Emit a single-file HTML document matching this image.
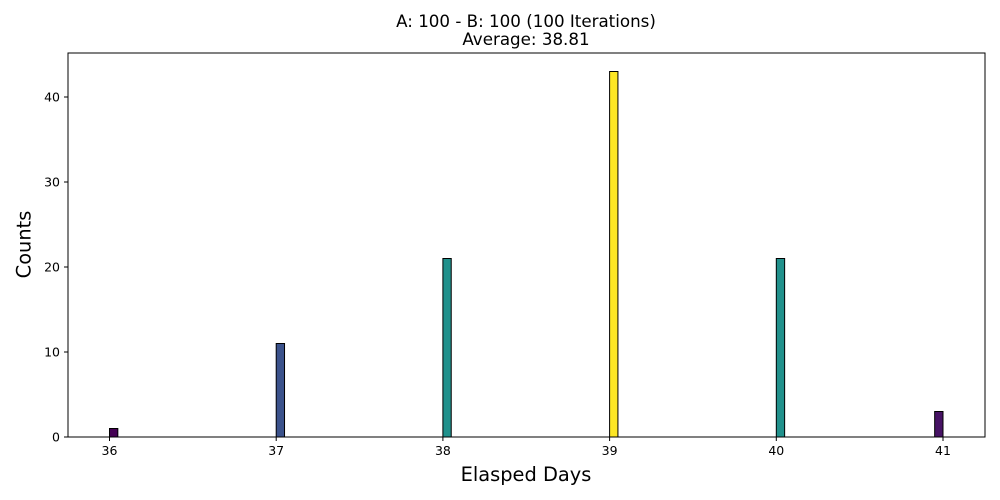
<!DOCTYPE html>
<html><head><style>body{margin:0;background:#fff}svg{display:block;font-family:"DejaVu Sans","Liberation Sans",sans-serif}</style></head>
<body>
<svg id="c" width="1000" height="500"></svg>
<script>
const days=[36,37,38,39,40,41];
const binStarts=[36,37,38,39,40,40.95];
const binWidth=0.05;
const counts=[1,11,21,43,21,3];
const colors=['#440154','#3b528b','#21918c','#fde725','#21918c','#471365'];
const yTicks=[0,10,20,30,40];
const xTicks=[36,37,38,39,40,41];
const NS='http://www.w3.org/2000/svg';
const svg=document.getElementById('c');
const L=68,R=985,T=53,B=437;
const x=v=>109.5+(v-36)*166.7;
const y=v=>B-v*8.5;
function mk(t,a,txt){const e=document.createElementNS(NS,t);for(const k in a)e.setAttribute(k,a[k]);if(txt!=null)e.textContent=txt;svg.appendChild(e);return e;}
days.forEach((d,i)=>{
 const x0=x(binStarts[i]),x1=x(binStarts[i]+binWidth);
 const r=mk('rect',{x:x0,y:y(counts[i]),width:x1-x0,height:B-y(counts[i]),fill:colors[i],stroke:'#000','stroke-width':1});
 
 
});
const f=mk('rect',{x:L,y:T,width:R-L,height:B-T,fill:'none',stroke:'#000','stroke-width':1});


yTicks.forEach(v=>{
 mk('line',{x1:L-4,x2:L,y1:y(v),y2:y(v),stroke:'#000'});
 const t=mk('text',{x:L-8,y:y(v)+4.5,'text-anchor':'end','font-size':12.5},v);
 
 
});
xTicks.forEach(v=>{
 mk('line',{x1:x(v),x2:x(v),y1:B,y2:B+4,stroke:'#000'});
 const t=mk('text',{x:x(v),y:B+18,'text-anchor':'middle','font-size':12.5},v);
 
 
});
</script>
<div style="position:absolute;left:0;top:0;width:1000px;height:500px;font-family:'DejaVu Sans','Liberation Sans',sans-serif;pointer-events:none">
<div style="position:absolute;left:0;width:1052px;top:13px;text-align:center;font-size:16.7px;line-height:17.5px">A: 100 - B: 100 (100 Iterations)<br>Average: 38.81</div>
<div style="position:absolute;left:0;width:1052px;top:463px;text-align:center;font-size:19.4px">Elasped Days</div>
<div style="position:absolute;left:-16px;top:233px;font-size:19.4px;transform:rotate(-90deg);width:80px;text-align:center">Counts</div>
</div>
</body></html>
